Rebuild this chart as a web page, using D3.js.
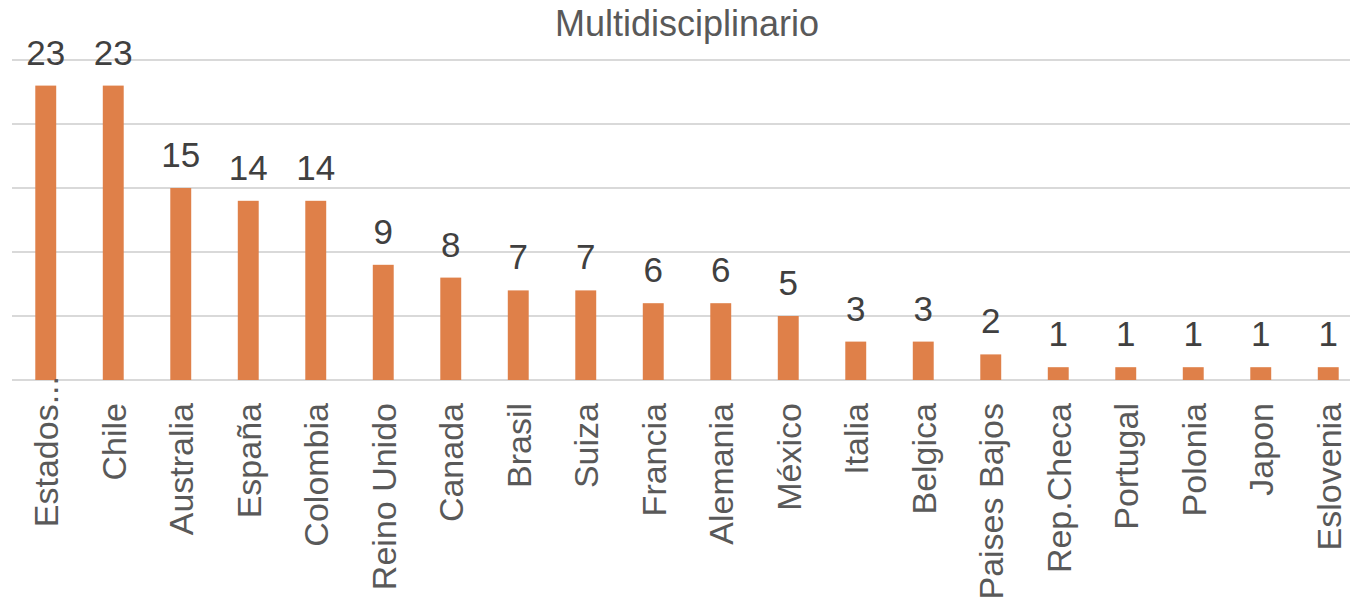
<!DOCTYPE html>
<html>
<head>
<meta charset="utf-8">
<script src="https://cdn.jsdelivr.net/npm/d3@7"></script>
<style>
  html, body { margin: 0; padding: 0; background: #fff; }
  svg { display: block; }
</style>
</head>
<body>
<div id="chart"></div>
<script>
const width = 1350;
const height = 606;

const title = "Multidisciplinario";
const paises = ["Estados...", "Chile", "Australia", "España", "Colombia", "Reino Unido",
    "Canada", "Brasil", "Suiza", "Francia", "Alemania", "México", "Italia", "Belgica",
    "Paises Bajos", "Rep.Checa", "Portugal", "Polonia", "Japon", "Eslovenia"];
const valores = [23, 23, 15, 14, 14, 9, 8, 7, 7, 6, 6, 5, 3, 3, 2, 1, 1, 1, 1, 1];
const yTicks = [0, 5, 10, 15, 20, 25];

const fontFamily = "'Liberation Sans', Arial, sans-serif";

const svg = d3.select("#chart")
    .append("svg")
    .attr("width", width)
    .attr("height", height)
    .attr("viewBox", [0, 0, width, height]);

const x = d3.scaleBand()
    .domain(paises)
    .range([12, 1362])
    .paddingInner(0.69)
    .paddingOuter(0.345);

const y = d3.scaleLinear()
    .domain([0, 25])
    .range([380, 60]);

// gridlines
svg.append("g")
    .selectAll("line")
    .data(yTicks)
    .join("line")
    .attr("x1", 12)
    .attr("x2", width)
    .attr("y1", d => y(d))
    .attr("y2", d => y(d))
    .attr("stroke", "#d9d9d9")
    .attr("stroke-width", 2);

// title
svg.append("text")
    .attr("x", 687)
    .attr("y", 36)
    .attr("text-anchor", "middle")
    .attr("font-family", fontFamily)
    .attr("font-size", "36px")
    .attr("fill", "#595959")
    .text(title);

// bars
svg.append("g")
    .selectAll("rect")
    .data(valores)
    .join("rect")
    .attr("x", (d, i) => x(paises[i]))
    .attr("width", x.bandwidth())
    .attr("y", d => y(d))
    .attr("height", d => y(0) - y(d))
    .attr("fill", "#df8049");

// data labels
svg.append("g")
    .selectAll("text")
    .data(valores)
    .join("text")
    .attr("x", (d, i) => x(paises[i]) + x.bandwidth() / 2)
    .attr("y", d => y(d) - 21)
    .attr("text-anchor", "middle")
    .attr("font-family", fontFamily)
    .attr("font-size", "35px")
    .attr("fill", "#404040")
    .text(d => d);

// category labels, rotated (truncated label overflows like Excel does)
const xAxis = d3.axisBottom(x).tickSize(0).tickPadding(0);
const axisG = svg.append("g")
    .attr("transform", `translate(0,${y(0)})`)
    .call(xAxis);
axisG.select(".domain").remove();
axisG.selectAll("text")
    .attr("font-family", fontFamily)
    .attr("font-size", "34px")
    .attr("fill", "#595959")
    .attr("text-anchor", "end")
    .attr("transform", "rotate(-90)")
    .attr("x", d => d.endsWith("...") ? 4 : -23)
    .attr("y", 0)
    .attr("dy", "0.36em");
</script>
</body>
</html>
